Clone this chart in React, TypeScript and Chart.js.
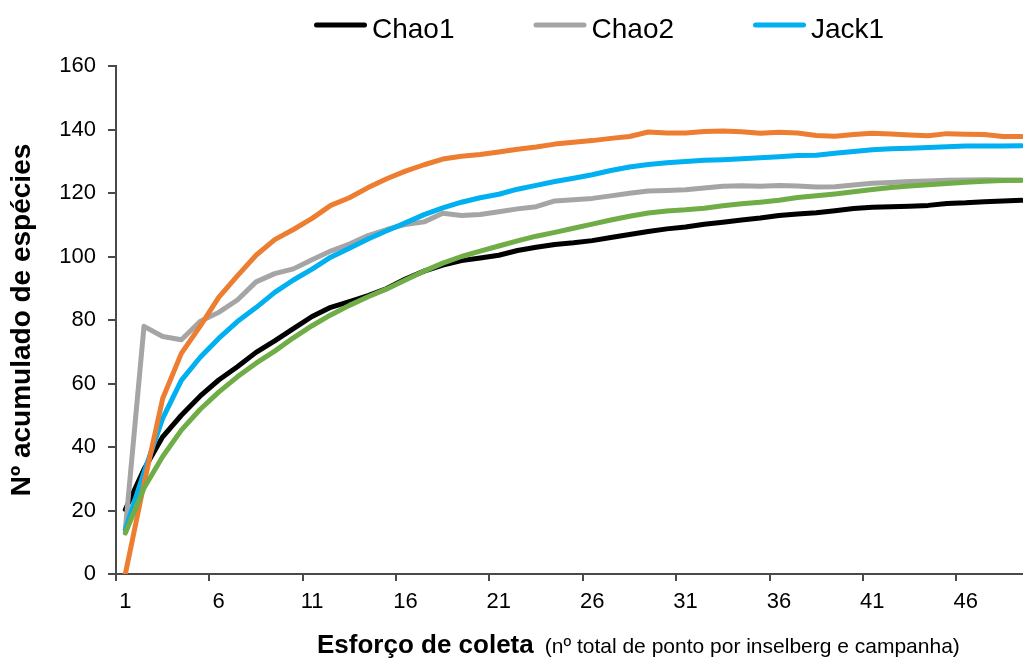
import React, { useEffect, useRef } from "react";
import { Chart, registerables } from "chart.js";

Chart.register(...registerables);

const FONT = '"Liberation Sans", Arial, Helvetica, sans-serif';

// ---------- data ----------
const categories = [
  "1", "2", "3", "4", "5", "6", "7", "8", "9", "10",
  "11", "12", "13", "14", "15", "16", "17", "18", "19", "20",
  "21", "22", "23", "24", "25", "26", "27", "28", "29", "30",
  "31", "32", "33", "34", "35", "36", "37", "38", "39", "40",
  "41", "42", "43", "44", "45", "46", "47", "48", "49",
];
const xTickLabels = ["1", "6", "11", "16", "21", "26", "31", "36", "41", "46"];
const yTickValues = [0, 20, 40, 60, 80, 100, 120, 140, 160];

const chao1 = [
  20.3, 33, 43.2, 50.0, 56.0, 61.1, 65.3, 69.8, 73.4, 77.3,
  81.1, 84.0, 85.8, 87.7, 89.9, 92.9, 95.4, 97.3, 98.7, 99.5,
  100.4, 101.9, 102.9, 103.8, 104.3, 105.0, 106.0, 106.9, 107.9, 108.7,
  109.3, 110.15, 110.8, 111.5, 112.1, 112.9, 113.4, 113.8, 114.4, 115.1,
  115.5, 115.7, 115.85, 116.1, 116.7, 116.9, 117.25, 117.45, 117.7,
];
const chao2 = [
  14, 78, 74.8, 73.8, 79.5, 82.4, 86.3, 92.0, 94.6, 96.1,
  99.0, 101.7, 103.9, 106.6, 108.5, 110.1, 110.9, 113.6, 112.9, 113.2,
  114.1, 115.0, 115.7, 117.5, 117.9, 118.3, 119.1, 119.9, 120.6, 120.8,
  121.0, 121.6, 122.1, 122.3, 122.15, 122.4, 122.2, 121.9, 122.0, 122.5,
  123.1, 123.3, 123.6, 123.8, 124.0, 124.1, 124.2, 124.1, 124.0,
];
const jack1 = [
  14, 32, 49, 61.0, 68.2, 74.2, 79.5, 83.9, 88.7, 92.6,
  96.0, 99.8, 102.6, 105.5, 108.1, 110.6, 113.2, 115.3, 117.1, 118.5,
  119.6, 121.2, 122.4, 123.6, 124.65, 125.75, 127.1, 128.2, 129.0, 129.5,
  129.9, 130.3, 130.5, 130.8, 131.1, 131.45, 131.8, 131.9, 132.5, 133.1,
  133.6, 133.9, 134.1, 134.3, 134.6, 134.8, 134.8, 134.8, 134.9,
];
const jack2 = [
  0, 28.4, 55.3, 69.5, 78, 87.1, 93.9, 100.4, 105.3, 108.5,
  112.0, 116.1, 118.5, 121.7, 124.5, 126.9, 128.9, 130.7, 131.6, 132.1,
  132.9, 133.8, 134.5, 135.4, 135.95, 136.5, 137.2, 137.8, 139.2, 138.9,
  138.9, 139.4, 139.5, 139.3, 138.8, 139.1, 138.9, 138.1, 137.9, 138.4,
  138.8, 138.6, 138.3, 138.0, 138.7, 138.5, 138.4, 137.8, 137.8,
];
const bootstrap = [
  12.9, 27.1, 37.0, 45.3, 51.8, 57.3, 62.1, 66.4, 70.2, 74.4,
  78.2, 81.6, 84.6, 87.3, 89.8, 92.6, 95.4, 97.9, 100.0, 101.7,
  103.3, 104.9, 106.4, 107.6, 108.9, 110.2, 111.5, 112.7, 113.7, 114.35,
  114.7, 115.2, 116.0, 116.6, 117.1, 117.7, 118.6, 119.1, 119.7, 120.4,
  121.1, 121.7, 122.2, 122.6, 123.0, 123.35, 123.7, 123.9, 124.0,
];

const seriesNames = ["Chao1", "Chao2", "Jack1", "Jack2", "Bootstrap"];
const legendNames = ["Chao1", "Chao2", "Jack1"];
const yTitle = "Nº acumulado de espécies";
const xTitleMain = "Esforço de coleta";
const xTitleSub = "(nº total de ponto por inselberg e campanha)";

// ---------- styles ----------
const COLORS = ["#000000", "#A5A5A5", "#00B0F0", "#ED7D31", "#70AD47"];
const AXIS = "#4a4a4a";

const textPlugin = {
  id: "customTexts",
  afterDraw(chart: any) {
    const ctx = chart.ctx as CanvasRenderingContext2D;
    ctx.save();
    // legend
    let x = 314;
    const lineY = 25;
    ctx.font = `28px ${FONT}`;
    ctx.textAlign = "left";
    ctx.textBaseline = "alphabetic";
    legendNames.forEach((name, i) => {
      ctx.strokeStyle = COLORS[i];
      ctx.lineWidth = 5;
      ctx.lineCap = "round";
      ctx.beginPath();
      ctx.moveTo(x + 2.5, lineY);
      ctx.lineTo(x + 50.5, lineY);
      ctx.stroke();
      ctx.fillStyle = "#000";
      ctx.fillText(name, x + 58, 38);
      x = x + 58 + ctx.measureText(name).width + 79;
    });
    // x axis title
    ctx.fillStyle = "#000";
    ctx.font = `bold 26px ${FONT}`;
    ctx.fillText(xTitleMain, 317, 653);
    const w = ctx.measureText(xTitleMain).width;
    ctx.font = `21px ${FONT}`;
    ctx.fillText(xTitleSub, 317 + w + 11, 653);
    ctx.restore();
  },
};

export default function App() {
  const ref = useRef<HTMLCanvasElement>(null);

  useEffect(() => {
    if (!ref.current) return;
    const data = [chao1, chao2, jack1, jack2, bootstrap];
    const orders = [4, 3, 2, 1, 0];
    const chart = new Chart(ref.current, {
      type: "line",
      data: {
        labels: categories,
        datasets: data.map((d, i) => ({
          label: seriesNames[i],
          data: d,
          borderColor: COLORS[i],
          backgroundColor: COLORS[i],
          borderWidth: 5,
          pointRadius: 0,
          pointHoverRadius: 0,
          tension: 0,
          fill: false,
          borderJoinStyle: "round" as const,
          borderCapStyle: "round" as const,
          order: orders[i],
        })),
      },
      options: {
        animation: false,
        responsive: true,
        maintainAspectRatio: false,
        devicePixelRatio: 1,
        layout: { padding: { top: 66, right: 9, bottom: 0, left: 0 } },
        plugins: {
          legend: { display: false },
          tooltip: { enabled: false },
          title: { display: false },
        },
        scales: {
          x: {
            type: "category",
            offset: true,
            afterFit: (scale: any) => {
              scale.height = 85;
            },
            grid: {
              offset: true,
              drawOnChartArea: false,
              drawTicks: true,
              tickLength: 7,
              lineWidth: 2,
              color: (c: any) =>
                typeof c.index === "number" && c.index % 5 === 0 && c.index < categories.length
                  ? AXIS
                  : "rgba(0,0,0,0)",
            },
            border: { display: true, color: AXIS, width: 2 },
            ticks: {
              autoSkip: false,
              maxRotation: 0,
              minRotation: 0,
              padding: 8,
              color: "#000",
              font: { family: FONT, size: 22 },
              callback: (_v: any, index: number) =>
                xTickLabels.includes(categories[index]) ? categories[index] : "",
            },
          },
          y: {
            type: "linear",
            min: 0,
            max: 160,
            afterFit: (scale: any) => {
              scale.width = 116;
            },
            afterBuildTicks: (axis: any) => {
              axis.ticks = yTickValues.map((v) => ({ value: v }));
            },
            grid: {
              drawOnChartArea: false,
              drawTicks: true,
              tickLength: 8,
              lineWidth: 2,
              color: AXIS,
            },
            border: { display: true, color: AXIS, width: 2 },
            ticks: {
              padding: 12,
              color: "#000",
              font: { family: FONT, size: 22 },
            },
            title: {
              display: true,
              text: yTitle,
              color: "#000",
              font: { family: FONT, size: 28, weight: "bold" },
              padding: { top: 5, bottom: 0 },
            },
          },
        },
      },
      plugins: [textPlugin],
    } as any);
    return () => chart.destroy();
  }, []);

  return (
    <div
      style={{
        position: "fixed",
        left: 0,
        top: 0,
        width: 1023,
        height: 659,
        overflow: "hidden",
        background: "#fff",
      }}
    >
      <div style={{ position: "relative", width: 1040, height: 659 }}>
        <canvas ref={ref} />
      </div>
    </div>
  );
}
